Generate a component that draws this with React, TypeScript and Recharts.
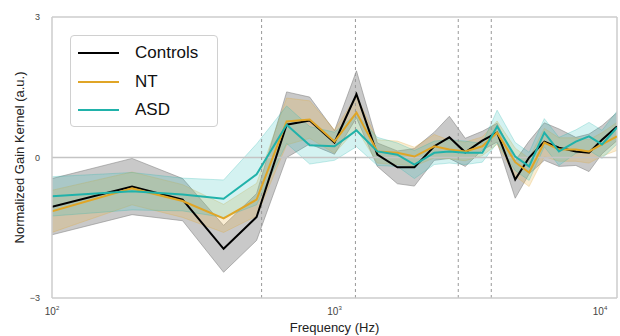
import {
  ComposedChart,
  Area,
  Line,
  XAxis,
  YAxis,
  ReferenceLine,
} from "recharts";

// frequency bins (Hz)
const freqs = [
  100, 192, 290, 405, 530, 677, 817, 1000, 1196, 1418, 1670, 1918, 2255,
  2550, 2903, 3336, 3764, 4362, 4886, 5530, 6230, 7150, 7960, 8850, 10000,
];

const controls = [
  -1.05, -0.62, -0.9, -1.95, -1.27, 0.7, 0.79, 0.32, 1.35, 0.06, -0.21,
  -0.21, 0.24, 0.43, 0.11, 0.36, 0.53, -0.47, 0.0, 0.34, 0.21, 0.13, 0.1,
  0.38, 0.66,
];
const controlsSem = [
  0.6, 0.6, 0.45, 0.5, 0.5, 0.7, 0.5, 0.25, 0.5, 0.25, 0.35, 0.4, 0.3, 0.45,
  0.3, 0.2, 0.2, 0.4, 0.35, 0.4, 0.4, 0.3, 0.4, 0.3, 0.3,
];

const nt = [
  -1.15, -0.66, -0.93, -1.3, -0.9, 0.77, 0.81, 0.34, 0.96, 0.13, 0.1, 0.02,
  0.24, 0.17, 0.13, 0.24, 0.53, -0.1, -0.32, 0.32, 0.17, 0.17, 0.13, 0.28,
  0.45,
];
const ntSem = [
  0.45, 0.35, 0.35, 0.3, 0.35, 0.5, 0.4, 0.25, 0.35, 0.25, 0.25, 0.2, 0.25,
  0.2, 0.2, 0.2, 0.25, 0.3, 0.3, 0.3, 0.25, 0.25, 0.25, 0.25, 0.3,
];

const asd = [
  -0.83, -0.72, -0.79, -0.88, -0.36, 0.7, 0.26, 0.24, 0.58, 0.13, 0.06,
  -0.15, 0.1, 0.13, 0.1, 0.1, 0.66, 0.02, -0.19, 0.53, 0.13, 0.34, 0.45,
  0.28, 0.64,
];
const asdSem = [
  0.42, 0.4, 0.35, 0.4, 0.65, 0.4, 0.4, 0.3, 0.35, 0.3, 0.25, 0.3, 0.25,
  0.25, 0.25, 0.2, 0.35, 0.3, 0.3, 0.3, 0.3, 0.25, 0.3, 0.3, 0.35,
];

const boundaries = [552, 1186, 2742, 3589];
const xTicks = [100, 1000, 10000];
const yTicks = [-3, 0, 3];

const series = [
  { name: "Controls", color: "#000000" },
  { name: "NT", color: "#E0A526" },
  { name: "ASD", color: "#20B2AA" },
];

const data = freqs.map((f, i) => ({
  f,
  controls: controls[i],
  controlsBand: [controls[i] - controlsSem[i], controls[i] + controlsSem[i]],
  nt: nt[i],
  ntBand: [nt[i] - ntSem[i], nt[i] + ntSem[i]],
  asd: asd[i],
  asdBand: [asd[i] - asdSem[i], asd[i] + asdSem[i]],
}));

const font = "'Liberation Sans', Arial, sans-serif";

const PowerTick = (props: any) => {
  const { x, y, payload } = props;
  const exp = Math.round(Math.log10(payload.value));
  return (
    <text x={x} y={y + 9} textAnchor="middle" fontSize={10} fill="#444" fontFamily={font}>
      10
      <tspan dy={-5} fontSize={6}>
        {exp}
      </tspan>
    </text>
  );
};

const YTick = (props: any) => {
  const { x, y, payload } = props;
  const label = payload.value < 0 ? `\u2212${Math.abs(payload.value)}` : String(payload.value);
  return (
    <text x={x - 4} y={y + 3} textAnchor="end" fontSize={9} fill="#444" fontFamily={font}>
      {label}
    </text>
  );
};

const LegendBox = () => (
  <div
    style={{
      position: "absolute",
      left: 70,
      top: 35,
      border: "1px solid #d0d0d0",
      borderRadius: 4,
      background: "rgba(255,255,255,0.85)",
      width: 148,
      height: 92,
      boxSizing: "border-box",
      padding: "3px 0 0 7px",
      fontFamily: font,
      fontSize: 17,
    }}
  >
    {series.map((s) => (
      <div key={s.name} style={{ display: "flex", alignItems: "center", height: 28.5 }}>
        <span
          style={{
            display: "inline-block",
            width: 41,
            height: 2,
            background: s.color,
            marginRight: 16,
          }}
        />
        <span style={{ color: "#111" }}>{s.name}</span>
      </div>
    ))}
  </div>
);

export default function App() {
  return (
    <div style={{ position: "absolute", left: 0, top: 0, width: 620, height: 336, background: "#fff" }}>
      <ComposedChart
        width={620}
        height={336}
        data={data}
        margin={{ top: 17, right: 3, bottom: 0, left: 0 }}
      >
        <XAxis
          dataKey="f"
          type="number"
          scale="log"
          domain={[100, 10000]}
          ticks={xTicks}
          height={38}
          tick={<PowerTick />}
          tickLine={false}
          axisLine={{ stroke: "#cccccc", strokeWidth: 1.5 }}
          allowDataOverflow
          label={{
            value: "Frequency (Hz)",
            position: "insideBottom",
            offset: 4,
            style: { fontSize: 13, fill: "#222", fontFamily: font },
          }}
        />
        <YAxis
          type="number"
          domain={[-3, 3]}
          ticks={yTicks}
          width={52}
          tick={<YTick />}
          tickLine={false}
          axisLine={{ stroke: "#cccccc", strokeWidth: 1.5 }}
          allowDataOverflow
          label={{
            value: "Normalized Gain Kernel (a.u.)",
            angle: -90,
            position: "insideLeft",
            offset: 19,
            style: { fontSize: 13, fill: "#222", fontFamily: font, textAnchor: "middle" },
          }}
        />
        <ReferenceLine y={3} stroke="#cccccc" strokeWidth={1.5} />
        <ReferenceLine x={10000} stroke="#cccccc" strokeWidth={1.5} />
        <ReferenceLine y={0} stroke="#c4c4c4" strokeWidth={1.5} />
        {boundaries.map((b) => (
          <ReferenceLine key={b} x={b} stroke="#999" strokeDasharray="3 3" strokeWidth={1} />
        ))}
        <Area
          dataKey="controlsBand"
          stroke="#8a8a8a"
          strokeOpacity={0.6}
          fill="#7f7f7f"
          fillOpacity={0.42}
          isAnimationActive={false}
          activeDot={false}
        />
        <Area
          dataKey="ntBand"
          stroke="#E0A526"
          strokeOpacity={0.25}
          fill="#E8B34A"
          fillOpacity={0.25}
          isAnimationActive={false}
          activeDot={false}
        />
        <Area
          dataKey="asdBand"
          stroke="#20B2AA"
          strokeOpacity={0.25}
          fill="#3cc4bd"
          fillOpacity={0.22}
          isAnimationActive={false}
          activeDot={false}
        />
        <Line dataKey="controls" stroke="#000" strokeWidth={2} dot={false} isAnimationActive={false} />
        <Line dataKey="nt" stroke="#E0A526" strokeWidth={2} dot={false} isAnimationActive={false} />
        <Line dataKey="asd" stroke="#20B2AA" strokeWidth={2} dot={false} isAnimationActive={false} />
      </ComposedChart>
      <LegendBox />
    </div>
  );
}
